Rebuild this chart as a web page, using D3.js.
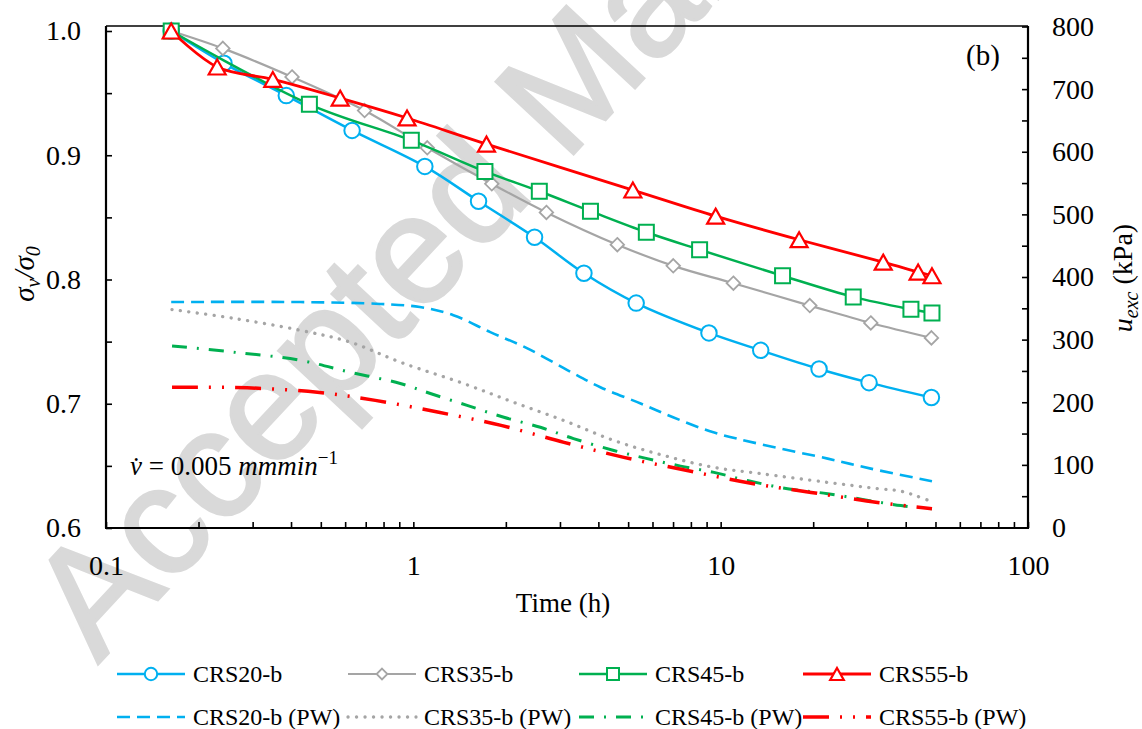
<!DOCTYPE html>
<html>
<head>
<meta charset="utf-8">
<script src="https://cdn.jsdelivr.net/npm/d3@7/dist/d3.min.js"></script>
<style>
body { margin: 0; background: #fff; }
text { font-family: "Liberation Serif", "Times New Roman", serif; fill: #000; }
</style>
</head>
<body>
<div class="container"></div>
<script>
////////////////////////////////////////////////////////////////
// DATA
////////////////////////////////////////////////////////////////
// normalised stress, left axis
var t20 = [0.163, 0.242, 0.386, 0.632, 1.09, 1.63, 2.48, 3.59, 5.31, 9.16, 13.5, 20.9, 30.4, 48.5];
var s20 = [1.0, 0.974, 0.948, 0.920, 0.891, 0.863, 0.834, 0.805, 0.781, 0.757, 0.743, 0.728, 0.717, 0.705];

var t35 = [0.163, 0.24, 0.403, 0.694, 1.11, 1.80, 2.71, 4.61, 7.01, 11.0, 19.5, 30.8, 48.5];
var s35 = [1.0, 0.986, 0.963, 0.936, 0.906, 0.877, 0.854, 0.828, 0.811, 0.797, 0.779, 0.765, 0.753];

var t45 = [0.163, 0.459, 0.985, 1.71, 2.57, 3.77, 5.73, 8.54, 15.9, 27.0, 41.6, 48.7];
var s45 = [1.0, 0.941, 0.912, 0.887, 0.871, 0.855, 0.838, 0.824, 0.803, 0.786, 0.776, 0.773];

var t55 = [0.163, 0.23, 0.349, 0.578, 0.954, 1.73, 5.18, 9.63, 18.0, 33.8, 43.9, 48.7];
var s55 = [1.0, 0.971, 0.961, 0.946, 0.930, 0.909, 0.872, 0.851, 0.832, 0.814, 0.806, 0.803];

// excess pore pressure (kPa), right axis
var tpw20 = [0.163, 0.428, 0.781, 1.05, 1.35, 1.78, 2.35, 3.18, 4.06, 5.49, 7.0, 9.47, 13.5, 22.3, 30.8, 48.7];
var upw20 = [360, 360, 357, 352, 339, 312, 286, 251, 224, 198, 176, 152, 133, 110, 94, 74];

var tpw35 = [0.164, 0.26, 0.428, 0.623, 0.907, 1.455, 2.117, 3.08, 4.49, 6.53, 9.5, 13.5, 22.3, 32.5, 38.6, 43.0, 47.0];
var upw35 = [348, 334, 315, 296, 264, 230, 200, 171, 139, 115, 96, 86, 72, 62, 58, 51, 44];

var tpw45 = [0.164, 0.26, 0.428, 0.623, 0.907, 1.136, 1.496, 1.97, 2.59, 3.32, 4.49, 5.77, 7.41, 9.51, 12.2, 16.5, 22.3, 38.6, 48.7];
var upw45 = [290, 280, 267, 248, 230, 214, 195, 176, 160, 142, 123, 110, 98, 88, 75, 62, 54, 35, 30];

var tpw55 = [0.164, 0.288, 0.487, 0.752, 1.21, 1.93, 3.09, 4.84, 7.78, 12.8, 19.7, 32.4, 48.7];
var upw55 = [224, 223, 216, 203, 184, 163, 136, 112, 91, 70, 56, 40, 30];

var seriesNames = ["CRS20-b", "CRS35-b", "CRS45-b", "CRS55-b"];
var pwNames = ["CRS20-b (PW)", "CRS35-b (PW)", "CRS45-b (PW)", "CRS55-b (PW)"];

var xTickValues = [0.1, 1, 10, 100];
var xTickLabels = ["0.1", "1", "10", "100"];
var yLeftTicks = [0.6, 0.65, 0.7, 0.75, 0.8, 0.85, 0.9, 0.95, 1.0];
var yLeftLabels = ["0.6", "", "0.7", "", "0.8", "", "0.9", "", "1.0"];
var yRightTicks = [0, 50, 100, 150, 200, 250, 300, 350, 400, 450, 500, 550, 600, 650, 700, 750, 800];

////////////////////////////////////////////////////////////////
// STYLES
////////////////////////////////////////////////////////////////
var colors = ["#00B0F0", "#A5A5A5", "#00B050", "#FF0000"];
var shapes = ["circle", "diamond", "square", "triangle"];
var lineW = [2.5, 2.2, 2.5, 2.8];
var pwDash = ["13,7", "0.1,8.4", "15,10,2,10", "26,11,2,11,2,11"];
var pwW = [2.6, 3.3, 3.0, 3.5];

////////////////////////////////////////////////////////////////
// STAGE
////////////////////////////////////////////////////////////////
var W = 1142, H = 729;
var L = 106, R = 1028, T = 26, B = 528;

var svg = d3.select(".container").append("svg")
	.attr("width", W)
	.attr("height", H);

svg.append("rect").attr("width", W).attr("height", H).attr("fill", "#fff");

// watermark sits under everything
svg.append("text")
	.attr("transform", "translate(98,664) rotate(-47)")
	.style("font-family", "'Liberation Sans', Arial, sans-serif")
	.style("font-size", "154px")
	.style("fill", "#d9d9d9")
	.style("stroke", "#d9d9d9")
	.style("stroke-width", 3)
	.text("Accepted Manuscript");

var x = d3.scaleLog().domain([0.1, 100]).range([L, R]);
var yL = d3.scaleLinear().domain([0.6, 1.0]).range([528, 31]);
var yR = d3.scaleLinear().domain([0, 800]).range([527.5, 26.5]);

////////////////////////////////////////////////////////////////
// AXES
////////////////////////////////////////////////////////////////
function styleAxis(g) {
	g.attr("font-family", null).attr("font-size", null);
	g.select(".domain").remove();
	g.selectAll(".tick line").attr("stroke", "#000").attr("stroke-width", 1.6);
	g.selectAll(".tick text").style("font-size", "28px");
}

var xAxis = d3.axisBottom(x)
	.tickValues(x.ticks())
	.tickSize(-6)
	.tickPadding(27)
	.tickFormat(function (d) {
		var i = xTickValues.findIndex(function (v) { return Math.abs(v - d) < 1e-9; });
		return i >= 0 ? xTickLabels[i] : "";
	});
svg.append("g").attr("transform", "translate(0," + B + ")").call(xAxis).call(styleAxis);

var yAxisL = d3.axisLeft(yL)
	.tickValues(yLeftTicks)
	.tickSize(-6)
	.tickPadding(25)
	.tickFormat(function (d, i) { return yLeftLabels[i]; });
svg.append("g").attr("transform", "translate(" + L + ",0)").call(yAxisL).call(styleAxis);

var yAxisR = d3.axisRight(yR)
	.tickValues(yRightTicks)
	.tickSize(-6)
	.tickPadding(24)
	.tickFormat(function (d) { return d % 100 == 0 ? d : ""; });
svg.append("g").attr("transform", "translate(" + R + ",0)").call(yAxisR).call(styleAxis);

// plot frame
svg.append("line").attr("x1", L).attr("x2", R).attr("y1", T).attr("y2", T).attr("stroke", "#000").attr("stroke-width", 1.6);
svg.append("line").attr("x1", L).attr("x2", L).attr("y1", T).attr("y2", B).attr("stroke", "#000").attr("stroke-width", 2.2);
svg.append("line").attr("x1", R).attr("x2", R).attr("y1", T).attr("y2", B).attr("stroke", "#000").attr("stroke-width", 2.2);
svg.append("line").attr("x1", L - 1).attr("x2", R + 1).attr("y1", B).attr("y2", B).attr("stroke", "#000").attr("stroke-width", 2.2);

////////////////////////////////////////////////////////////////
// MARKERS
////////////////////////////////////////////////////////////////
function markerPath(shape, s) {
	// s = overall marker width
	var h = s / 2;
	if (shape == "circle") return d3.symbol(d3.symbolCircle, Math.PI * h * h)();
	if (shape == "square") return "M" + (-h) + "," + (-h) + "H" + h + "V" + h + "H" + (-h) + "Z";
	if (shape == "diamond") return "M0," + (-h) + "L" + h + ",0L0," + h + "L" + (-h) + ",0Z";
	// triangle, centred on its bounding box
	var th = s * 0.88 / 2;
	return "M0," + (-th) + "L" + h + "," + th + "L" + (-h) + "," + th + "Z";
}
var markerSize = [15.5, 13.5, 15, 17];
var markerStroke = [2, 1.8, 2, 2.2];

////////////////////////////////////////////////////////////////
// SERIES
////////////////////////////////////////////////////////////////
var line = d3.line().curve(d3.curveCatmullRom.alpha(0.5));

var pwT = [tpw20, tpw35, tpw45, tpw55];
var pwU = [upw20, upw35, upw45, upw55];
pwT.forEach(function (ts, k) {
	var pts = ts.map(function (d, i) { return [x(d), yR(pwU[k][i])]; });
	svg.append("path").datum(pts)
		.attr("d", line)
		.attr("fill", "none")
		.attr("stroke", colors[k])
		.attr("stroke-width", pwW[k])
		.attr("stroke-dasharray", pwDash[k])
		.attr("stroke-linecap", k == 1 ? "round" : "butt");
});

var sT = [t20, t35, t45, t55];
var sV = [s20, s35, s45, s55];
sT.forEach(function (ts, k) {
	var pts = ts.map(function (d, i) { return [x(d), yL(sV[k][i])]; });
	svg.append("path").datum(pts)
		.attr("d", line)
		.attr("fill", "none")
		.attr("stroke", colors[k])
		.attr("stroke-width", lineW[k]);
	svg.append("g").selectAll("path").data(pts).enter().append("path")
		.attr("transform", function (p) { return "translate(" + p[0] + "," + p[1] + ")"; })
		.attr("d", markerPath(shapes[k], markerSize[k]))
		.attr("fill", "#fff")
		.attr("stroke", colors[k])
		.attr("stroke-width", markerStroke[k]);
});

////////////////////////////////////////////////////////////////
// TITLES & NOTES
////////////////////////////////////////////////////////////////
svg.append("text")
	.attr("x", 563).attr("y", 612)
	.attr("text-anchor", "middle")
	.style("font-size", "27px")
	.text("Time (h)");

var yt = svg.append("text")
	.attr("transform", "translate(34,274) rotate(-90)")
	.attr("text-anchor", "middle")
	.style("font-size", "29px")
	.style("font-style", "italic");
yt.append("tspan").text("σ");
yt.append("tspan").attr("dy", 6).style("font-size", "20px").text("v");
yt.append("tspan").attr("dy", -6).text("/σ");
yt.append("tspan").attr("dy", 6).style("font-size", "20px").text("0");

var rt = svg.append("text")
	.attr("transform", "translate(1132,278) rotate(-90)")
	.attr("text-anchor", "middle")
	.style("font-size", "28px");
rt.append("tspan").style("font-style", "italic").text("u");
rt.append("tspan").attr("dy", 6).style("font-style", "italic").style("font-size", "20px").text("exc");
rt.append("tspan").attr("dy", -6).text(" (kPa)");

svg.append("text")
	.attr("x", 966).attr("y", 65)
	.style("font-size", "29px")
	.text("(b)");

var note = svg.append("text")
	.attr("x", 130).attr("y", 475)
	.style("font-size", "27px");
note.append("tspan").style("font-style", "italic").text("v\u0307");
note.append("tspan").text(" = 0.005 ");
note.append("tspan").style("font-style", "italic").text("mmmin");
note.append("tspan").attr("dy", -11).style("font-size", "19px").text("\u22121");

////////////////////////////////////////////////////////////////
// LEGEND
////////////////////////////////////////////////////////////////
var legX = [117, 348, 579, 803];
var legRowY = [674, 717];
var legW = 68;

for (var k = 0; k < 4; k++) {
	var gx = legX[k];
	// solid + marker row
	svg.append("line").attr("x1", gx).attr("x2", gx + legW)
		.attr("y1", legRowY[0]).attr("y2", legRowY[0])
		.attr("stroke", colors[k]).attr("stroke-width", lineW[k]);
	svg.append("path")
		.attr("transform", "translate(" + (gx + legW / 2) + "," + legRowY[0] + ")")
		.attr("d", markerPath(shapes[k], markerSize[k] * 0.8))
		.attr("fill", "#fff").attr("stroke", colors[k]).attr("stroke-width", markerStroke[k]);
	svg.append("text").attr("x", gx + legW + 8).attr("y", legRowY[0] + 8)
		.style("font-size", "24px").text(seriesNames[k]);
	// pore pressure row
	svg.append("line").attr("x1", gx).attr("x2", gx + legW)
		.attr("y1", legRowY[1]).attr("y2", legRowY[1])
		.attr("stroke", colors[k]).attr("stroke-width", pwW[k])
		.attr("stroke-dasharray", pwDash[k])
		.attr("stroke-linecap", k == 1 ? "round" : "butt");
	svg.append("text").attr("x", gx + legW + 8).attr("y", legRowY[1] + 8)
		.style("font-size", "24px").text(pwNames[k]);
}
</script>
</body>
</html>
